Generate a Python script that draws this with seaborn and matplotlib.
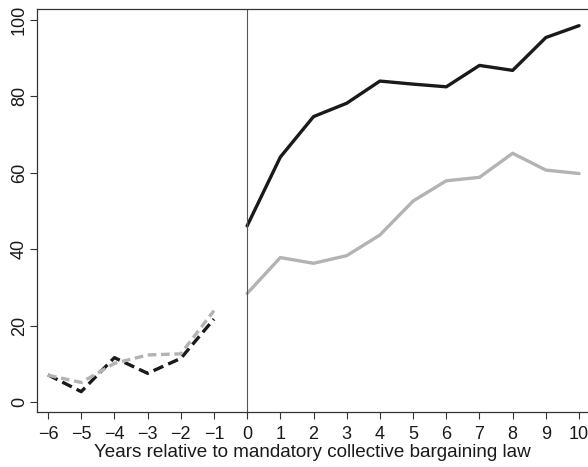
import seaborn as sns
import matplotlib.pyplot as plt
import pandas as pd

# event-time data
years_pre = [-6, -5, -4, -3, -2, -1]
years_post = [0, 1, 2, 3, 4, 5, 6, 7, 8, 9, 10]

black_pre = [7.1, 2.7, 11.6, 7.5, 11.4, 21.7]
gray_pre = [7.0, 5.1, 10.1, 12.3, 12.6, 23.9]
black_post = [46.1, 64.1, 74.7, 78.2, 84.0, 83.2, 82.5, 88.1, 86.8, 95.4, 98.5]
gray_post = [28.4, 37.8, 36.3, 38.3, 43.7, 52.6, 57.9, 58.8, 65.1, 60.7, 59.8]

x_ticks = list(range(-6, 11))
y_ticks = [0, 20, 40, 60, 80, 100]

sns.set_style("ticks")
plt.rcParams["font.family"] = ["Liberation Sans", "DejaVu Sans"]

fig = plt.figure(figsize=(5.88, 4.67), dpi=100)
ax = fig.add_axes([0.063, 0.118, 0.937, 0.863])

segments = [
    (years_pre, black_pre, "#1a1a1a", (3.2, 1.6)),
    (years_pre, gray_pre, "#b3b3b3", (2.6, 1.4)),
    (years_post, black_post, "#1a1a1a", None),
    (years_post, gray_post, "#b3b3b3", None),
]
for xs, ys, col, dash in segments:
    df = pd.DataFrame({"year": xs, "value": ys})
    sns.lineplot(data=df, x="year", y="value", color=col, linewidth=2.4, ax=ax)
    l = ax.get_lines()[-1]
    if dash is not None:
        l.set_dashes(dash)

ax.axvline(0, color="#555555", linewidth=0.8)

ax.set_xlim(-6.33, 10.27)
ax.set_ylim(-2.6, 102.9)
ax.set_xticks(x_ticks)
ax.set_xticklabels([str(t).replace("-", "\u2212") for t in x_ticks])
ax.set_yticks(y_ticks)
ax.set_yticklabels([str(t) for t in y_ticks], rotation=90, va="center")
ax.tick_params(axis="both", labelsize=13, length=5, width=0.8, color="#333333", labelcolor="#1a1a1a")
ax.tick_params(axis="x", pad=5)
ax.tick_params(axis="y", pad=1.5)
ax.set_xlabel("Years relative to mandatory collective bargaining law", fontsize=13.6, color="#1a1a1a", labelpad=1)
ax.set_ylabel("")

for side in ["left", "top", "bottom"]:
    ax.spines[side].set_color("#333333")
    ax.spines[side].set_linewidth(0.9)
ax.spines["right"].set_visible(False)

plt.savefig("out.png", dpi=100)
